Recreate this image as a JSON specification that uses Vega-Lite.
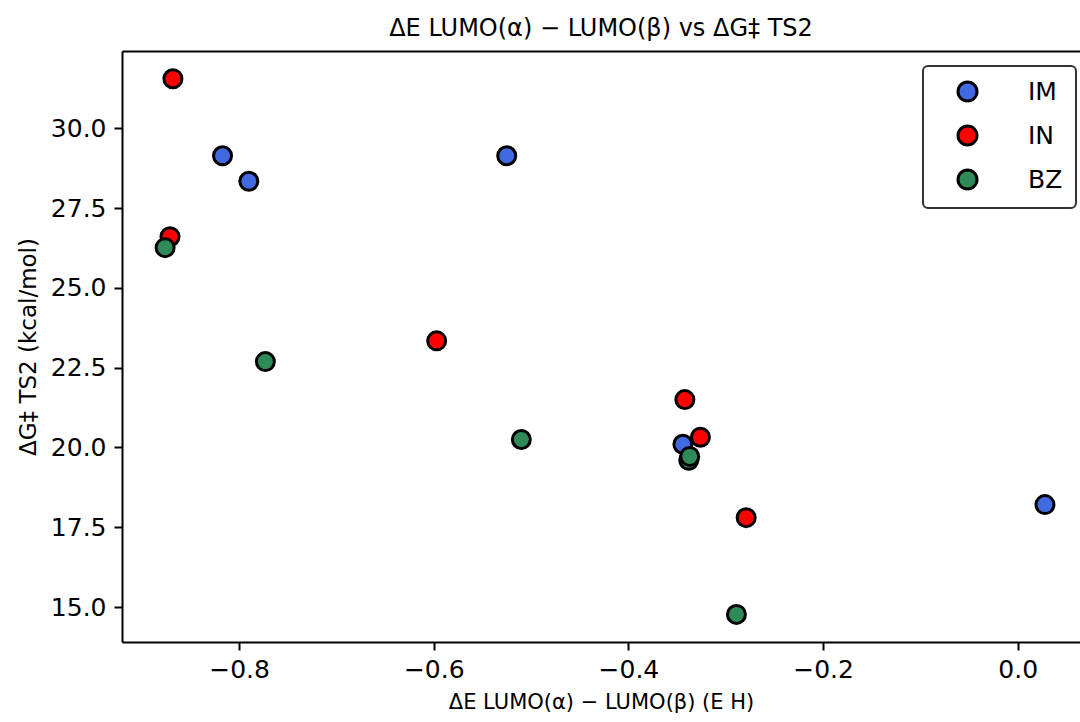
{
  "$schema": "https://vega.github.io/schema/vega-lite/v6.json",
  "width": 958,
  "height": 591,
  "autosize": {"type": "none"},
  "padding": {"left": 122, "top": 51, "right": 0, "bottom": 80},
  "background": "white",
  "config": {"font": "DejaVu Sans", "view": {"stroke": null}},
  "title": {"text": "ΔE LUMO(α) − LUMO(β) vs ΔG‡ TS2", "fontSize": 24, "fontWeight": "normal", "font": "DejaVu Sans", "color": "black", "offset": 10, "anchor": "middle"},
  "data": {"values": [
    {"group": "IM", "dE": -0.817, "dG": 29.14},
    {"group": "IM", "dE": -0.79, "dG": 28.34},
    {"group": "IM", "dE": -0.525, "dG": 29.14},
    {"group": "IM", "dE": -0.344, "dG": 20.1},
    {"group": "IM", "dE": 0.028, "dG": 18.21},
    {"group": "IN", "dE": -0.868, "dG": 31.55},
    {"group": "IN", "dE": -0.871, "dG": 26.6},
    {"group": "IN", "dE": -0.597, "dG": 23.34},
    {"group": "IN", "dE": -0.342, "dG": 21.5},
    {"group": "IN", "dE": -0.326, "dG": 20.32},
    {"group": "IN", "dE": -0.279, "dG": 17.8},
    {"group": "BZ", "dE": -0.876, "dG": 26.26},
    {"group": "BZ", "dE": -0.773, "dG": 22.69},
    {"group": "BZ", "dE": -0.51, "dG": 20.25},
    {"group": "BZ", "dE": -0.338, "dG": 19.6},
    {"group": "BZ", "dE": -0.337, "dG": 19.72},
    {"group": "BZ", "dE": -0.289, "dG": 14.77}
  ]},
  "layer": [
    {
      "mark": {"type": "circle", "size": 324, "stroke": "black", "strokeWidth": 3, "opacity": 1},
      "encoding": {
        "x": {"field": "dE", "type": "quantitative",
              "scale": {"domain": [-0.9203, 0.064], "nice": false, "zero": false},
              "axis": {"orient": "bottom", "values": [-0.8, -0.6, -0.4, -0.2, 0], "format": ".1f",
                       "labelFontSize": 25, "labelColor": "black", "labelPadding": 7, "labelFlush": false,
                       "tickSize": 8, "tickWidth": 2, "tickColor": "black",
                       "domainColor": "black", "domainWidth": 2, "grid": false,
                       "title": "ΔE LUMO(α) − LUMO(β) (E H)", "titleFontSize": 21, "titleFontWeight": "normal",
                       "titleColor": "black", "titlePadding": 9}},
        "y": {"field": "dG", "type": "quantitative",
              "scale": {"domain": [13.906, 32.42], "nice": false, "zero": false},
              "axis": {"values": [15, 17.5, 20, 22.5, 25, 27.5, 30], "format": ".1f",
                       "labelFontSize": 25, "labelColor": "black", "labelPadding": 8, "labelFlush": false,
                       "tickSize": 8, "tickWidth": 2, "tickColor": "black",
                       "domainColor": "black", "domainWidth": 2, "grid": false,
                       "title": "ΔG‡ TS2 (kcal/mol)", "titleFontSize": 23, "titleFontWeight": "normal",
                       "titleColor": "black", "titlePadding": 10}},
        "color": {"field": "group", "type": "nominal",
                  "scale": {"domain": ["IM", "IN", "BZ"], "range": ["#4169E1", "#FF0000", "#2E8B57"]},
                  "legend": {"title": null, "orient": "none", "legendX": 801, "legendY": 15,
                             "fillColor": "white", "strokeColor": "#333333", "cornerRadius": 5,
                             "padding": 13, "symbolOffset": 19, "symbolType": "circle", "symbolSize": 361,
                             "symbolStrokeColor": "black", "symbolStrokeWidth": 3, "symbolOpacity": 1,
                             "labelFontSize": 25, "labelColor": "black", "labelOffset": 48, "rowPadding": 13,
                             "encode": {"legend": {"update": {"strokeWidth": {"value": 2}}}}}}
      }
    },
    {
      "mark": {"type": "circle", "opacity": 0},
      "encoding": {
        "x": {"field": "dE", "type": "quantitative",
              "axis": {"orient": "top", "labels": false, "ticks": false, "title": null, "grid": false,
                       "domainColor": "black", "domainWidth": 2}}
      }
    }
  ],
  "resolve": {"axis": {"x": "independent"}}
}
